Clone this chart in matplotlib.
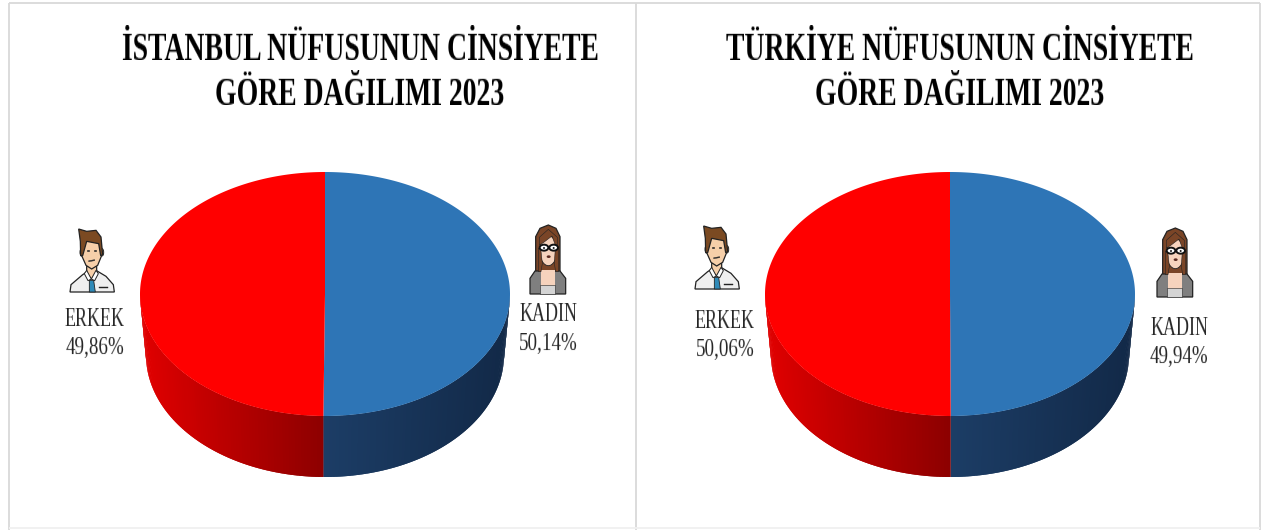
import numpy as np
import matplotlib
matplotlib.use("Agg")
import matplotlib.pyplot as plt
from matplotlib.patches import Polygon, Ellipse

# ---- data ----
panel_titles = [["İSTANBUL NÜFUSUNUN CİNSİYETE", "GÖRE DAĞILIMI 2023"],
                ["TÜRKİYE NÜFUSUNUN CİNSİYETE", "GÖRE DAĞILIMI 2023"]]
categories = ["KADIN", "ERKEK"]
istanbul_shares = [50.14, 49.86]
turkiye_shares = [49.94, 50.06]

# ---- layout (pixels) ----
W, H = 1266, 530
RX, RY, DEPTH, RX_BOTTOM = 185, 122, 61, 179
CENTERS = [(325, 294), (950, 294)]
TITLE_X = [360, 960]
LABEL_POS = [{"KADIN": (548, 321, 350), "ERKEK": (95, 326, 354)},
             {"KADIN": (1179, 335, 363), "ERKEK": (725, 328, 356)}]
MAN_ORIGIN = [(70, 228), (695, 225)]
WOMAN_ORIGIN = [(530, 225), (1157, 228)]
BLUE, RED = "#2e75b6", "#ff0000"

fig = plt.figure(figsize=(W / 100, H / 100), dpi=100, facecolor="white")
ax = fig.add_axes([0, 0, 1, 1])
ax.set_xlim(0, W)
ax.set_ylim(H, 0)
ax.axis("off")


def stretch(factor):
    """Vertically stretch text upward from its bottom edge (narrow-looking type)."""
    def _filter(img, dpi):
        h = img.shape[0]
        nh = int(round(h * factor))
        src = np.linspace(0, h - 1, nh)
        i0 = np.floor(src).astype(int)
        i1 = np.minimum(i0 + 1, h - 1)
        w = (src - i0)[:, None, None]
        return img[i0] * (1 - w) + img[i1] * w, 0, 0
    return _filter


def put_text(x, y, s, size, factor, bold=False, color="black"):
    t = ax.text(x, y, s, ha="center", va="baseline", fontsize=size,
                family="Liberation Serif", weight="bold" if bold else "normal",
                color=color)
    t.set_agg_filter(stretch(factor))


def arc(cx, cy, t0, t1, n=200, rx=RX):
    t = np.radians(np.linspace(t0, t1, n))
    return np.column_stack([cx + rx * np.cos(t), cy + RY * np.sin(t)])


def lerp(c0, c1, f):
    return tuple((1 - f) * a + f * b for a, b in zip(c0, c1))


def side_color(cat, nx):
    # nx = horizontal position across the pie, -1 (left) .. 1 (right)
    if cat == "ERKEK":
        return lerp((0.88, 0, 0), (0.55, 0, 0), min(1, abs(1 + nx)))
    return lerp((0.11, 0.24, 0.40), (0.07, 0.16, 0.28), min(1, abs(nx)))


def draw_pie(cx, cy, shares):
    total = sum(shares)
    start = -90.0
    spans = []
    for cat, v in zip(categories, shares):
        end = start + 360.0 * v / total
        spans.append((cat, start, end))
        start = end
    # visible side wall: angles 0..180 (y points down)
    for cat, a0, a1 in spans:
        for shift in (0, -360, 360):
            lo, hi = max(a0 + shift, 0), min(a1 + shift, 180)
            if hi <= lo:
                continue
            edges = np.linspace(lo, hi, int((hi - lo) / 1.0) + 2)
            for e0, e1 in zip(edges[:-1], edges[1:]):
                e2 = min(e1 + 1.0, hi)  # overlap neighbours so no seams appear
                top = arc(cx, cy, e0, e2, 4)
                bot = arc(cx, cy + DEPTH, e0, e2, 4, rx=RX_BOTTOM)
                poly = np.vstack([top, bot[::-1]])
                nx = np.cos(np.radians((e0 + e1) / 2))
                ax.add_patch(Polygon(poly, closed=True, fc=side_color(cat, nx),
                                     ec="none", lw=0, zorder=2))
    # top face
    for cat, a0, a1 in spans:
        poly = np.vstack([[cx, cy], arc(cx, cy, a0, a1)])
        ax.add_patch(Polygon(poly, closed=True, lw=0, zorder=3,
                             fc=BLUE if cat == "KADIN" else RED))


def shape(ox, oy, x0, y0, pts, fc, ec="#222222", lw=0.9, z=5):
    p = [(ox + (a - x0) / 3, oy + (b - y0) / 3) for a, b in pts]
    ax.add_patch(Polygon(p, closed=True, fc=fc, ec=ec, lw=lw, zorder=z))


def oval(ox, oy, x0, y0, c, rx, ry, fc, ec="#222222", lw=0.9, z=5):
    ax.add_patch(Ellipse((ox + (c[0] - x0) / 3, oy + (c[1] - y0) / 3),
                         2 * rx / 3, 2 * ry / 3, fc=fc, ec=ec, lw=lw, zorder=z))


def man(ox, oy):
    a = (ox, oy, 212, 85)
    shape(*a, [(212, 277), (215, 255), (250, 225), (270, 212), (290, 212), (320, 230),
               (342, 255), (345, 277)], "#efefef")
    shape(*a, [(262, 200), (292, 200), (292, 222), (276, 238), (262, 222)], "#f6cfa9", z=6)
    shape(*a, [(255, 222), (262, 212), (276, 238), (266, 243)], "white", lw=0.7, z=7)
    shape(*a, [(297, 222), (290, 212), (276, 238), (286, 243)], "white", lw=0.7, z=7)
    shape(*a, [(270, 242), (283, 242), (288, 277), (270, 277)], "#2f8ab8", lw=0.6, z=6)
    shape(*a, [(300, 262), (325, 262), (325, 266), (300, 266)], "#222222", lw=0.3, z=6)
    oval(*a, (247, 158), 5, 11, "#f6cfa9", lw=0.7, z=5)
    oval(*a, (308, 158), 5, 11, "#f6cfa9", lw=0.7, z=5)
    shape(*a, [(248, 125), (306, 125), (306, 170), (295, 197), (277, 208), (260, 197), (248, 170)],
          "#f6cfa9", z=6)
    shape(*a, [(238, 88), (262, 95), (290, 92), (305, 112), (310, 165), (304, 168),
               (298, 132), (262, 125), (250, 168), (244, 168), (243, 125)], "#7b4a22", z=7)
    shape(*a, [(262, 150), (270, 150), (270, 153), (262, 153)], "#222222", lw=0.4, z=8)
    shape(*a, [(283, 150), (291, 150), (291, 153), (283, 153)], "#222222", lw=0.4, z=8)
    shape(*a, [(268, 183), (286, 180), (286, 183), (268, 186)], "#333333", lw=0.3, z=8)


def woman(ox, oy):
    a = (ox, oy, 150, 75)
    shape(*a, [(167, 215), (167, 110), (180, 85), (205, 75), (228, 85), (240, 110),
               (240, 215)], "#7a4527")
    shape(*a, [(150, 282), (150, 235), (165, 213), (240, 213), (257, 235), (257, 282)],
          "#7f7f7f", z=5)
    shape(*a, [(183, 282), (183, 210), (225, 210), (225, 282)], "#f6d3bd", ec="none", z=6)
    shape(*a, [(181, 282), (181, 255), (226, 255), (226, 282)], "#d4d4d4", lw=0.4, z=7)
    oval(*a, (205, 152), 26, 45, "#f6d3bd", lw=0.6, z=6)
    shape(*a, [(178, 135), (178, 112), (205, 88), (232, 112), (232, 135), (226, 135),
               (216, 108), (190, 128)], "#7a4527", lw=0.4, z=7)
    shape(*a, [(175, 215), (175, 145), (182, 145), (187, 190), (183, 215)], "#7a4527", lw=0.4, z=7)
    shape(*a, [(235, 215), (235, 145), (226, 145), (223, 190), (227, 215)], "#7a4527", lw=0.4, z=7)
    oval(*a, (192, 143), 13, 9, "white", ec="#111111", lw=1.4, z=8)
    oval(*a, (221, 143), 13, 9, "white", ec="#111111", lw=1.4, z=8)
    oval(*a, (192, 144), 3, 3, "#222222", ec="none", z=9)
    oval(*a, (221, 144), 3, 3, "#222222", ec="none", z=9)
    oval(*a, (206, 170), 6, 4, "#5a2a20", ec="none", z=8)


# frame
frame = "#d9d9d9"
for xs, ys in [([9, 9], [3, H]), ([636, 636], [3, H]), ([1260, 1260], [3, H]), ([9, 1260], [3, 3])]:
    ax.plot(xs, ys, color=frame, lw=1.3, zorder=1, solid_capstyle="butt")
ax.plot([9, 1260], [528, 528], color="#f0f0f0", lw=1.3, zorder=1, solid_capstyle="butt")

for i, shares in enumerate([istanbul_shares, turkiye_shares]):
    draw_pie(*CENTERS[i], shares)
    put_text(TITLE_X[i], 60, panel_titles[i][0], 20.0, 1.45, bold=True)
    put_text(TITLE_X[i], 105, panel_titles[i][1], 20.0, 1.45, bold=True)
    man(*MAN_ORIGIN[i])
    woman(*WOMAN_ORIGIN[i])
    for cat, v in zip(categories, shares):
        x, y1, y2 = LABEL_POS[i][cat]
        put_text(x, y1, cat, 13.0, 1.35, color="#262626")
        put_text(x, y2, f"{v:.2f}%".replace(".", ","), 13.7, 1.3, color="#262626")

fig.savefig("out.png", dpi=100, facecolor="white")
